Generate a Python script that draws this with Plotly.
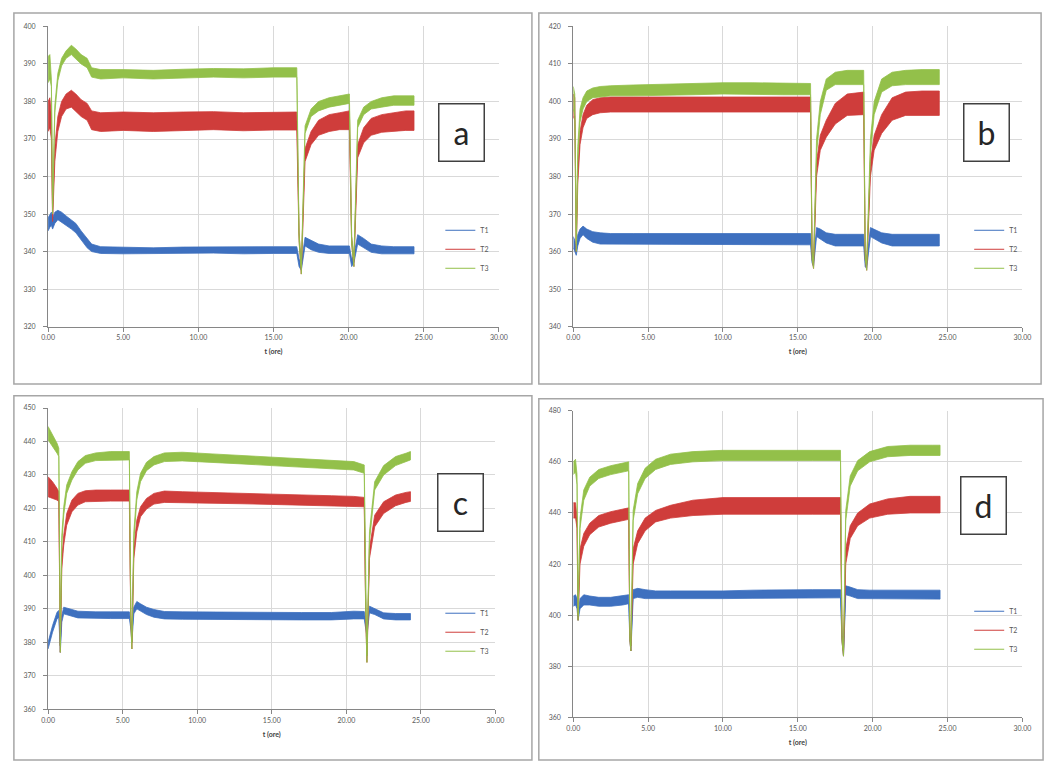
import plotly.graph_objects as go

# ---------------- data ----------------
series_names = ["T1", "T2", "T3"]
x_ticks = [0, 5, 10, 15, 20, 25, 30]

# Panel a
a_t = [0.00, 0.12, 0.22, 0.30, 0.45, 0.65, 0.90, 1.20, 1.55, 1.85, 2.20, 2.60, 2.90, 3.50, 5.0, 7.0, 9.0, 11.0, 13.0, 15.0,
       16.55, 16.70, 16.85, 17.10, 17.50, 18.00, 18.70, 19.40, 20.05, 20.20, 20.35, 20.60, 21.00, 21.50, 22.20, 23.00, 23.80, 24.35]
a_t1_hi = [349.0, 350.0, 350.5, 349.0, 350.5, 351.0, 350.5, 349.5, 348.5, 347.5, 345.5, 343.5, 342.0, 341.3, 341.2, 341.0, 341.2, 341.3, 341.2, 341.3,
           341.3, 338.0, 337.0, 343.8, 343.0, 342.0, 341.5, 341.5, 341.5, 338.0, 339.0, 344.5, 343.5, 342.0, 341.5, 341.3, 341.3, 341.3]
a_t1_lo = [345.5, 346.5, 347.0, 346.0, 347.5, 348.5, 348.0, 347.0, 346.0, 345.0, 343.0, 341.0, 340.0, 339.5, 339.4, 339.3, 339.5, 339.6, 339.4, 339.5,
           339.5, 336.0, 335.0, 341.5, 340.5, 339.8, 339.5, 339.5, 339.5, 336.0, 337.0, 342.0, 341.0, 339.8, 339.4, 339.4, 339.4, 339.4]
a_t2_hi = [380.0, 381.0, 376.0, 350.0, 368.0, 376.0, 380.0, 382.0, 383.0, 382.0, 380.5, 379.5, 377.5, 377.0, 377.2, 377.0, 377.2, 377.3, 377.0, 377.2,
           377.2, 345.0, 336.0, 367.5, 372.0, 375.0, 376.5, 377.0, 377.5, 344.0, 338.0, 368.5, 373.0, 375.5, 376.5, 377.0, 377.5, 377.5]
a_t2_lo = [372.0, 373.0, 370.0, 348.0, 364.0, 372.0, 376.0, 378.0, 378.5, 377.5, 376.0, 375.0, 372.5, 372.0, 372.3, 372.0, 372.3, 372.5, 372.2, 372.4,
           372.4, 343.0, 334.0, 364.0, 368.5, 371.0, 372.0, 372.5, 372.5, 342.0, 336.0, 365.0, 369.0, 371.0, 371.8, 372.0, 372.3, 372.3]
a_t3_hi = [392.0, 392.5, 386.0, 352.0, 379.0, 387.5, 391.5, 393.5, 395.0, 394.0, 392.5, 391.5, 389.0, 388.5, 388.5, 388.3, 388.6, 388.8, 388.7, 389.0,
           389.0, 345.0, 336.0, 373.5, 378.0, 380.0, 381.0, 381.5, 382.0, 344.0, 338.0, 375.0, 378.5, 380.0, 381.0, 381.5, 381.5, 381.5]
a_t3_lo = [385.0, 386.0, 384.0, 350.0, 377.0, 385.5, 389.5, 391.5, 392.5, 391.5, 390.0, 389.0, 386.5, 386.0, 386.3, 386.0, 386.2, 386.5, 386.3, 386.5,
           386.5, 343.0, 334.0, 371.5, 376.0, 377.5, 378.5, 379.0, 379.5, 342.0, 336.0, 373.0, 376.5, 378.0, 378.5, 379.0, 379.0, 379.0]

# Panel b
b_t = [0.00, 0.10, 0.20, 0.30, 0.45, 0.65, 0.90, 1.30, 1.80, 2.50, 4.0, 6.0, 8.0, 10.0, 12.0, 14.0, 15.85, 15.95, 16.05, 16.25,
       16.50, 16.90, 17.50, 18.30, 19.40, 19.50, 19.60, 19.85, 20.10, 20.60, 21.30, 22.20, 23.30, 24.45]
b_t1_hi = [364.0, 363.0, 361.0, 364.5, 366.0, 366.8, 366.0, 365.3, 365.0, 364.8, 364.8, 364.8, 364.8, 364.8, 364.8, 364.8, 364.8, 359.0, 358.0, 366.4,
           366.0, 365.0, 364.6, 364.6, 364.6, 358.0, 357.5, 366.4, 366.0, 365.0, 364.6, 364.6, 364.6, 364.6]
b_t1_lo = [361.0, 360.0, 359.0, 361.5, 363.5, 364.5, 363.5, 362.5, 362.0, 361.8, 361.8, 361.8, 361.8, 361.8, 361.8, 361.8, 361.8, 357.0, 356.0, 364.0,
           363.5, 362.3, 361.5, 361.5, 361.5, 356.0, 355.5, 364.0, 363.5, 362.3, 361.5, 361.5, 361.5, 361.5]
b_t2_hi = [402.0, 401.0, 362.0, 382.0, 392.0, 396.5, 399.0, 400.5, 401.0, 401.2, 401.2, 401.2, 401.3, 401.3, 401.3, 401.2, 401.2, 360.0, 357.5, 384.0,
           391.0, 395.0, 399.5, 402.0, 402.5, 360.0, 357.0, 384.0, 391.0, 396.5, 401.0, 402.5, 402.8, 402.8]
b_t2_lo = [396.0, 395.0, 360.0, 378.0, 388.5, 393.0, 395.5, 396.5, 397.0, 397.2, 397.2, 397.2, 397.3, 397.3, 397.3, 397.2, 397.2, 358.0, 355.5, 380.0,
           387.0, 390.5, 394.0, 396.3, 396.5, 358.0, 355.0, 380.0, 387.0, 391.5, 395.0, 396.3, 396.3, 396.3]
b_t3_hi = [404.0, 402.0, 362.0, 388.0, 398.0, 401.0, 402.8, 403.6, 404.0, 404.2, 404.4, 404.6, 404.8, 405.0, 405.0, 404.8, 404.8, 360.0, 357.5, 390.0,
           400.0, 406.0, 407.8, 408.3, 408.3, 360.0, 357.0, 390.0, 400.0, 406.0, 407.8, 408.3, 408.5, 408.5]
b_t3_lo = [398.0, 396.0, 360.0, 384.0, 394.5, 398.0, 400.0, 401.0, 401.3, 401.5, 401.5, 401.6, 401.8, 402.0, 402.0, 401.8, 401.8, 358.0, 355.5, 386.0,
           396.5, 403.0, 404.5, 404.5, 404.5, 358.0, 355.0, 386.0, 396.5, 402.5, 404.2, 404.5, 404.5, 404.5]

# Panel c
c_t = [0.00, 0.30, 0.60, 0.72, 0.82, 0.92, 1.05, 1.25, 1.60, 2.00, 2.50, 3.20, 4.20, 5.45, 5.55, 5.62, 5.75, 5.95, 6.20, 6.60,
       7.10, 7.80, 9.0, 11.0, 13.0, 15.0, 17.0, 19.0, 20.5, 21.20, 21.30, 21.38, 21.55, 21.90, 22.50, 23.30, 24.00, 24.30]
c_t1_hi = [380.0, 385.0, 389.0, 389.5, 379.0, 388.0, 390.5, 390.3, 389.8, 389.3, 389.2, 389.1, 389.1, 389.1, 386.0, 382.0, 390.5, 392.2, 391.5, 390.5,
           389.8, 389.2, 389.1, 389.0, 389.0, 388.9, 388.9, 388.9, 389.3, 389.2, 386.0, 384.0, 390.8, 390.0, 388.8, 388.6, 388.6, 388.6]
c_t1_lo = [378.0, 383.0, 387.0, 387.5, 377.0, 386.0, 388.5, 388.3, 387.8, 387.3, 387.2, 387.1, 387.1, 387.1, 384.0, 380.0, 388.5, 390.0, 389.3, 388.3,
           387.5, 387.0, 386.9, 386.8, 386.8, 386.7, 386.7, 386.7, 387.0, 387.0, 384.0, 382.0, 388.8, 388.3, 387.0, 386.7, 386.7, 386.7]
c_t2_hi = [429.5, 428.0, 426.0, 425.0, 379.0, 405.0, 412.0, 418.5, 422.5, 424.5, 425.3, 425.5, 425.5, 425.5, 388.0, 380.0, 408.0, 416.5, 420.5, 423.0,
           424.5, 425.2, 425.0, 424.8, 424.5, 424.3, 424.0, 423.8, 423.6, 423.3, 390.0, 376.0, 408.0, 418.0, 422.0, 424.0, 424.8, 425.0]
c_t2_lo = [423.5, 423.0, 422.5, 422.0, 377.0, 402.0, 409.0, 415.0, 419.0, 421.0, 422.0, 422.2, 422.2, 422.2, 386.0, 378.0, 405.0, 413.0, 417.5, 419.8,
           421.3, 421.8, 421.8, 421.6, 421.4, 421.2, 421.0, 420.8, 420.6, 420.5, 388.0, 374.0, 405.0, 414.5, 418.5, 420.8, 421.8, 422.1]
c_t3_hi = [444.5, 442.0, 439.5, 438.0, 379.0, 412.0, 420.5, 427.0, 431.0, 434.0, 435.8, 436.6, 437.0, 437.0, 388.0, 380.0, 413.0, 425.0, 430.5, 433.8,
           435.5, 436.6, 436.8, 436.3, 435.8, 435.3, 434.8, 434.4, 434.0, 433.0, 390.0, 376.0, 413.0, 428.0, 432.8, 435.5, 436.5, 437.0]
c_t3_lo = [440.5, 438.5, 436.5, 435.5, 377.0, 409.0, 418.0, 424.5, 428.5, 431.5, 433.5, 434.3, 434.5, 434.5, 386.0, 378.0, 410.0, 422.5, 428.0, 431.3,
           433.0, 434.0, 434.2, 433.8, 433.3, 432.8, 432.3, 431.8, 431.5, 430.5, 388.0, 374.0, 410.0, 425.5, 430.0, 432.8, 434.0, 434.5]

# Panel d
d_t = [0.00, 0.15, 0.25, 0.32, 0.45, 0.70, 1.10, 1.70, 2.50, 3.30, 3.70, 3.78, 3.85, 4.00, 4.30, 4.80, 5.50, 6.50, 8.0, 10.0,
       12.0, 14.0, 16.0, 17.85, 17.95, 18.05, 18.20, 18.50, 19.00, 19.80, 21.0, 22.5, 24.0, 24.50]
d_t1_hi = [407.5, 408.0, 406.5, 400.0, 406.5, 408.0, 407.5, 407.0, 407.0, 407.5, 408.0, 392.0, 388.0, 410.0, 410.5, 410.0, 409.5, 409.5, 409.5, 409.5,
           409.8, 410.0, 410.0, 410.0, 392.0, 386.0, 411.5, 411.0, 410.0, 409.8, 409.8, 409.8, 409.8, 409.8]
d_t1_lo = [403.5, 404.0, 402.5, 398.0, 402.5, 404.0, 404.0, 403.5, 403.5, 404.0, 404.5, 390.0, 386.0, 406.5, 407.0, 406.5, 406.3, 406.5, 406.5, 406.5,
           406.6, 406.8, 406.8, 406.8, 390.0, 384.0, 408.0, 407.5, 406.5, 406.3, 406.3, 406.3, 406.3, 406.3]
d_t2_hi = [444.0, 444.0, 438.0, 400.0, 426.0, 432.0, 436.0, 439.0, 440.5, 441.5, 442.0, 392.0, 388.0, 426.0, 433.0, 438.0, 441.0, 443.0, 445.0, 446.0,
           446.0, 446.0, 446.0, 446.0, 392.0, 386.0, 426.0, 435.0, 440.0, 443.5, 445.5, 446.5, 446.5, 446.5]
d_t2_lo = [438.0, 438.0, 434.0, 398.0, 420.0, 427.0, 431.5, 434.5, 436.0, 437.0, 437.5, 390.0, 386.0, 420.0, 428.0, 433.0, 436.5, 438.0, 439.0, 439.5,
           439.5, 439.5, 439.5, 439.5, 390.0, 384.0, 420.0, 430.0, 435.0, 438.0, 439.5, 440.0, 440.0, 440.0]
d_t3_hi = [460.0, 461.0, 455.0, 400.0, 438.0, 449.0, 454.0, 457.0, 458.5, 459.5, 460.0, 392.0, 388.0, 441.0, 451.5, 457.5, 461.0, 463.0, 464.0, 464.5,
           464.5, 464.5, 464.5, 464.5, 392.0, 386.0, 441.0, 454.5, 460.5, 464.0, 466.0, 466.5, 466.5, 466.5]
d_t3_lo = [455.0, 456.0, 451.0, 398.0, 434.0, 445.0, 450.5, 453.5, 455.0, 456.0, 456.5, 390.0, 386.0, 437.0, 447.5, 453.5, 457.0, 459.0, 460.0, 460.5,
           460.5, 460.5, 460.5, 460.5, 390.0, 384.0, 437.0, 450.5, 456.5, 460.0, 462.0, 462.5, 462.5, 462.5]

panel_labels = ["a", "b", "c", "d"]
y_ranges = [[320, 400], [340, 420], [360, 450], [360, 480]]
y_steps = [10, 10, 10, 20]
x_title = "t (ore)"

# ---------------- styling / layout ----------------
W, H = 1056, 765
colors = ["#3E70BF", "#CF3D3B", "#93C04A"]

def px(x):
    return x / W

def py(y):
    return 1 - y / H

panels = [
    dict(t=a_t, s=[(a_t1_lo, a_t1_hi), (a_t2_lo, a_t2_hi), (a_t3_lo, a_t3_hi)],
         dom_x=(41.7, 499.5), dom_y=(21.7, 325), frame=(7, 8, 533, 383),
         box=(461, 129), leg=(440, 213)),
    dict(t=b_t, s=[(b_t1_lo, b_t1_hi), (b_t2_lo, b_t2_hi), (b_t3_lo, b_t3_hi)],
         dom_x=(575, 1031), dom_y=(21.7, 325), frame=(540, 8, 1050, 383),
         box=(995, 129), leg=(977, 213)),
    dict(t=c_t, s=[(c_t1_lo, c_t1_hi), (c_t2_lo, c_t2_hi), (c_t3_lo, c_t3_hi)],
         dom_x=(41.7, 496), dom_y=(407.3, 711.7), frame=(7, 395, 533, 763),
         box=(460, 503), leg=(440, 600)),
    dict(t=d_t, s=[(d_t1_lo, d_t1_hi), (d_t2_lo, d_t2_hi), (d_t3_lo, d_t3_hi)],
         dom_x=(575, 1031), dom_y=(410, 720), frame=(540, 398, 1052, 763),
         box=(992, 506), leg=(977, 598)),
]

fig = go.Figure()
layout = dict(width=W, height=H, margin=dict(l=0, r=0, t=0, b=0),
              paper_bgcolor="white", plot_bgcolor="white",
              font=dict(family="Lato, 'Open Sans', sans-serif", color="#595959"),
              shapes=[], annotations=[])

for i, p in enumerate(panels):
    k = "" if i == 0 else str(i + 1)
    xa, ya = "x" + k, "y" + k
    legname = "legend" + k
    for j, (lo, hi) in enumerate(p["s"]):
        xs = list(p["t"]) + list(p["t"])[::-1]
        ys = list(hi) + list(lo)[::-1]
        fig.add_trace(go.Scatter(x=xs, y=ys, xaxis=xa, yaxis=ya, mode="lines",
                                 fill="toself", fillcolor=colors[j],
                                 line=dict(color=colors[j], width=0.8),
                                 showlegend=False, hoverinfo="skip"))
    for j, name in enumerate(series_names):
        fig.add_trace(go.Scatter(x=[None], y=[None], xaxis=xa, yaxis=ya, mode="lines",
                                 name=name, line=dict(color=colors[j], width=1),
                                 legend=legname, showlegend=True))
    layout["xaxis" + k] = dict(domain=[px(p["dom_x"][0]), px(p["dom_x"][1])], anchor=ya,
                               range=[0, 30], tickvals=x_ticks, tickformat=".2f",
                               showgrid=True, gridcolor="#d9d9d9", gridwidth=1,
                               showline=True, linecolor="#868686", linewidth=1,
                               ticks="outside", ticklen=4, tickcolor="#868686",
                               tickfont=dict(size=7, color="#595959"), zeroline=False,
                               title=dict(text="<b>" + x_title + "</b>", font=dict(size=7, color="#404040"),
                                          standoff=9))
    lo_r, hi_r = y_ranges[i]
    layout["yaxis" + k] = dict(domain=[py(p["dom_y"][1]), py(p["dom_y"][0])], anchor=xa,
                               range=[lo_r, hi_r], tick0=lo_r, dtick=y_steps[i],
                               showgrid=True, gridcolor="#d9d9d9", gridwidth=1,
                               showline=True, linecolor="#868686", linewidth=1,
                               ticks="outside", ticklen=4, tickcolor="#868686",
                               ticklabelstandoff=6,
                               tickfont=dict(size=7, color="#595959"), zeroline=False)
    layout[legname] = dict(x=px(p["leg"][0]), y=py(p["leg"][1]), xanchor="left", yanchor="top",
                           bgcolor="rgba(0,0,0,0)", font=dict(size=7, color="#595959"),
                           itemwidth=30, tracegroupgap=0)
    fx0, fy0, fx1, fy1 = p["frame"]
    layout["shapes"].append(dict(type="rect", xref="paper", yref="paper",
                                 x0=px(fx0), x1=px(fx1), y0=py(fy1), y1=py(fy0),
                                 line=dict(color="#a6a6a6", width=1.5), layer="below"))
    bx, by = p["box"]
    layout["annotations"].append(dict(text=panel_labels[i], xref="paper", yref="paper",
                                      x=px(bx), y=py(by), xanchor="center", yanchor="middle",
                                      showarrow=False, font=dict(size=32, color="#262626",
                                                                 family="Lato, 'Open Sans', sans-serif"),
                                      width=44, height=56, bordercolor="#404040", borderwidth=1.5,
                                      borderpad=0, bgcolor="white"))

fig.update_layout(**layout)
fig.write_html("out.html", config={"displayModeBar": False},
               post_script="document.body.style.margin='0px';document.body.style.overflow='hidden';")
